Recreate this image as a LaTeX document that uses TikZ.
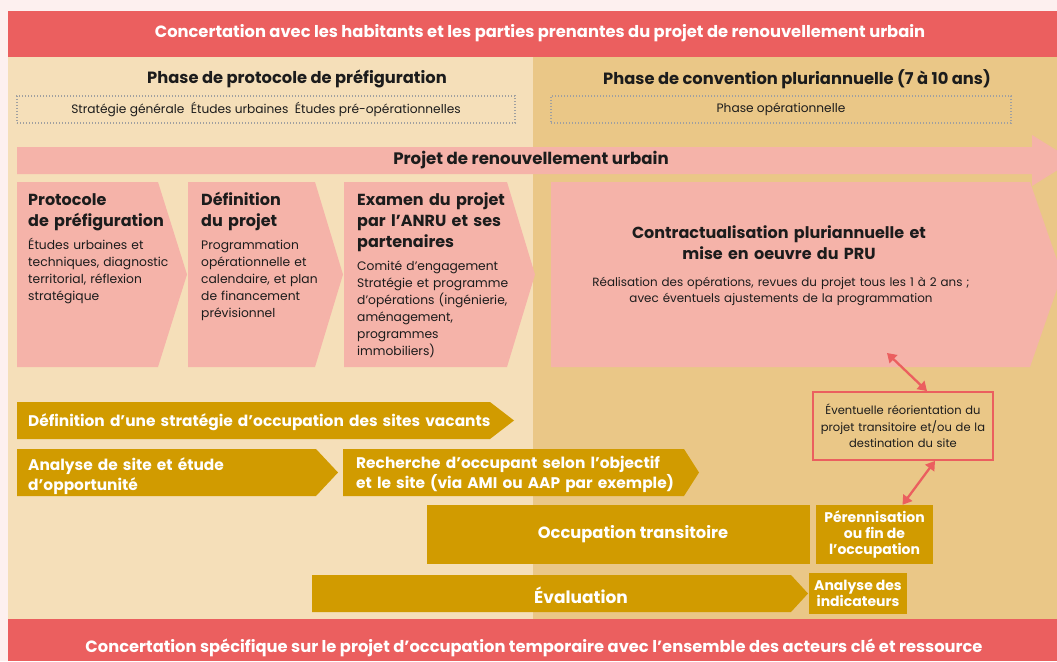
\documentclass[tikz,border=0pt]{standalone}
\usepackage{fontspec}
\setmainfont{Poppins}
\usepackage{xcolor}
\usepackage{tikz}
\usetikzlibrary{arrows.meta, positioning}

\definecolor{pagebg}{HTML}{FDF0EF}
\definecolor{barred}{HTML}{EB5F5F}
\definecolor{beigeA}{HTML}{F5DFB9}
\definecolor{beigeB}{HTML}{EAC787}
\definecolor{pinkbox}{HTML}{F5B3A9}
\definecolor{gold}{HTML}{D19B00}
\definecolor{dotgray}{HTML}{A0A0A0}
\definecolor{ink}{HTML}{1C1C1C}

\begin{document}
\begin{tikzpicture}[x=1pt, y=-1pt,
			>={Triangle[length=9pt, width=11pt]},
			bartext/.style={text=white, font=\bfseries\fontsize{16.3}{18}\selectfont},
			phasetitle/.style={text=ink, font=\bfseries\fontsize{16.3}{20}\selectfont},
			dotbox/.style={draw=dotgray, line width=1.4pt, dash pattern=on 1.4pt off 1.6pt},
			smalltext/.style={text=ink, font=\fontsize{12.2}{16}\selectfont},
			chevtitle/.style={text=ink, font=\bfseries\fontsize{16}{21}\selectfont, anchor=base west, inner sep=0pt, align=left},
			chevbody/.style={text=ink, font=\fontsize{12.3}{17}\selectfont, anchor=base west, inner sep=0pt, align=left},
			goldtext/.style={text=white, font=\bfseries\fontsize{15.4}{20}\selectfont, anchor=base west, inner sep=0pt, align=left},
			goldbox/.style={fill=gold, text=white, font=\bfseries\fontsize{14}{16}\selectfont, inner sep=0pt, align=center},
			twoway/.style={<->, draw=barred, line width=2.3pt}]
			\clip (0,0) rectangle (1057,661);
			\fill[pagebg] (0,0) rectangle (1057,661);
			\fill[beigeA] (8,57) rectangle (533,620);
			\fill[beigeB] (533,57) rectangle (1057,620);
			\fill[barred] (8,11) rectangle (1057,57);
			\fill[barred] (8,619) rectangle (1057,661);
			\node at (540,33) (top) [bartext] {Concertation avec les habitants et les parties prenantes du projet de renouvellement urbain};
			\node at (534,648) (bottom) [bartext] {Concertation spécifique sur le projet d’occupation temporaire avec l’ensemble des acteurs clé et ressource};
			\node at (297,79) (phaseA) [phasetitle] {Phase de protocole de préfiguration};
			\node at (797,79) (phaseB) [phasetitle] {Phase de convention pluriannuelle (7 à 10 ans)};
			\node at (266,109.5) (etudes) [dotbox, smalltext, minimum width=498, minimum height=27] {Stratégie générale\ \ Études urbaines\ \ Études pré-opérationnelles};
			\node at (781,109.5) (operat) [dotbox, smalltext, minimum width=460, minimum height=27] {Phase opérationnelle};
			\fill[pinkbox] (17,147) -- (1032,147) -- (1032,135) -- (1073,160.5) -- (1032,186) -- (1032,174) -- (17,174) -- cycle;
			\node at (531,160.5) (pru) [phasetitle, font=\bfseries\fontsize{16.6}{18}\selectfont] {Projet de renouvellement urbain};
			\fill[pinkbox] (17,182) -- (158,182) -- (187,274.5) -- (158,367) -- (17,367) -- cycle;
			\fill[pinkbox] (188,182) -- (315,182) -- (343,274.5) -- (315,367) -- (188,367) -- cycle;
			\fill[pinkbox] (344,182) -- (507,182) -- (535,274.5) -- (507,367) -- (344,367) -- cycle;
			\fill[pinkbox] (551,182) -- (1030,182) -- (1062,274.5) -- (1030,367) -- (551,367) -- cycle;
			\node at (28,205) (protT) [chevtitle, text width=150] {Protocole\\de préfiguration};
			\node at (28,249.5) (protB) [chevbody, text width=150] {Études urbaines et\\techniques, diagnostic\\territorial, réflexion\\stratégique};
			\node at (201,205) (defT) [chevtitle, text width=130] {Définition\\du projet};
			\node at (201,249.5) (defB) [chevbody, text width=130] {Programmation\\opérationnelle et\\calendaire, et plan\\de financement\\prévisionnel};
			\node at (357,205) (examT) [chevtitle, text width=160] {Examen du projet\\par l’ANRU et ses\\partenaires};
			\node at (357,270.5) (examB) [chevbody, text width=170] {Comité d’engagement\\Stratégie et programme\\d’opérations (ingénierie,\\aménagement,\\programmes\\immobiliers)};
			\node at (779,238.5) (contT) [chevtitle, anchor=base, align=center, text width=400] {Contractualisation pluriannuelle et\\mise en oeuvre du PRU};
			\node at (781,286.5) (contB) [chevbody, anchor=base, align=center, text width=420, font=\fontsize{11.9}{16}\selectfont] {Réalisation des opérations, revues du projet tous les 1 à 2 ans ;\\avec éventuels ajustements de la programmation};
			\coordinate (prubot) at (887,353);
			\node at (903,426) (reor) [draw=barred, line width=1.8pt, fill=beigeB, minimum width=180, minimum height=68, text width=172, align=center, text=ink, font=\fontsize{11.5}{16.5}\selectfont] {Éventuelle réorientation du\\projet transitoire et/ou de la\\destination du site};
			\fill[gold] (17,402) -- (490,402) -- (514,420.5) -- (490,439) -- (17,439) -- cycle;
			\fill[gold] (17,449) -- (316,449) -- (338,472.5) -- (316,496) -- (17,496) -- cycle;
			\fill[gold] (343,449) -- (684,449) -- (699,472.5) -- (684,496) -- (343,496) -- cycle;
			\fill[gold] (312,575) -- (791,575) -- (808,593.5) -- (791,612) -- (312,612) -- cycle;
			\node at (28,426.4) (strat) [goldtext, text width=470] {Définition d’une stratégie d’occupation des sites vacants};
			\node at (28,470.4) (analyse) [goldtext, text width=290] {Analyse de site et étude\\d’opportunité};
			\node at (356,468.4) (recher) [goldtext, text width=340] {Recherche d’occupant selon l’objectif\\et le site (via AMI ou AAP par exemple)};
			\node at (618.5,534.5) (occup) [goldbox, minimum width=383, minimum height=59] {};
			\node at ([xshift=14.5pt]occup.center) (occupT) [goldtext, anchor=center, text width=, font=\bfseries\fontsize{16.3}{18}\selectfont] {Occupation transitoire};
			\node at (874.5,534.5) (peren) [goldbox, minimum width=117, minimum height=59] {Pérennisation\\ou fin de\\l’occupation};
			\node at (581,595) (evalu) [goldtext, anchor=center, text width=, font=\bfseries\fontsize{17}{18}\selectfont] {Évaluation};
			\node at (858,593.5) (indic) [goldbox, minimum width=98, minimum height=41] {Analyse des\\indicateurs};
			\draw[twoway] (prubot) -- ([xshift=24pt]reor.north);
			\draw[twoway] ([xshift=32pt]reor.south) -- ([xshift=28pt]peren.north);
		\end{tikzpicture}
\end{document}
